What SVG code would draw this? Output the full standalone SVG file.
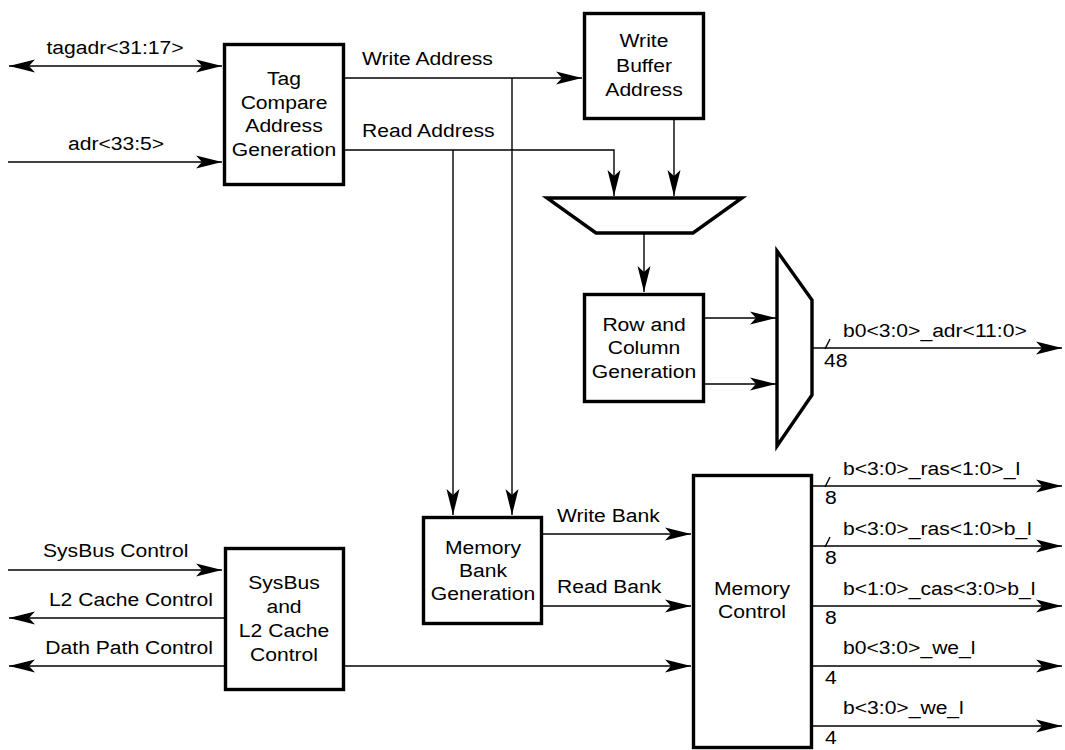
<svg xmlns="http://www.w3.org/2000/svg" width="1065" height="750" viewBox="0 0 1065 750">
<style>
.box{fill:#fff;stroke:#000;stroke-width:3.4}
.w{fill:none;stroke:#000;stroke-width:1.4}
.t{font-family:"Liberation Sans",Arial,Helvetica,sans-serif;font-size:18.6px;fill:#000}
.m{text-anchor:middle}
.e{text-anchor:end}
</style>
<defs>
<marker id="ah" markerUnits="userSpaceOnUse" markerWidth="27" markerHeight="14" refX="26" refY="7" orient="auto-start-reverse">
<path d="M0,0.5 L26,7 L0,13.5 L6,7 Z" fill="#000"/>
</marker>
</defs>
<rect width="1065" height="750" fill="#fff"/>
<g id="connectors">
<path class="w" d="M9,66 H222" marker-start="url(#ah)" marker-end="url(#ah)"/>
<path class="w" d="M8,162 H222" marker-end="url(#ah)"/>
<path class="w" d="M344,78 H582" marker-end="url(#ah)"/>
<path class="w" d="M344,150 H614 V196" marker-end="url(#ah)"/>
<path class="w" d="M512,78 V515" marker-end="url(#ah)"/>
<path class="w" d="M453,150 V515" marker-end="url(#ah)"/>
<path class="w" d="M674,120 V196" marker-end="url(#ah)"/>
<path class="w" d="M644,233 V292" marker-end="url(#ah)"/>
<path class="w" d="M705,318 H776" marker-end="url(#ah)"/>
<path class="w" d="M705,384 H776" marker-end="url(#ah)"/>
<path class="w" d="M813,348 H1062" marker-end="url(#ah)"/>
<path class="w" d="M825,349 L830,339"/>
<path class="w" d="M543,534 H691" marker-end="url(#ah)"/>
<path class="w" d="M543,606 H691" marker-end="url(#ah)"/>
<path class="w" d="M8,570 H222" marker-end="url(#ah)"/>
<path class="w" d="M224,618 H9" marker-end="url(#ah)"/>
<path class="w" d="M224,666 H9" marker-end="url(#ah)"/>
<path class="w" d="M345,666 H691" marker-end="url(#ah)"/>
<path class="w" d="M813,486 H1062" marker-end="url(#ah)"/>
<path class="w" d="M825,487 L830,477"/>
<path class="w" d="M813,546 H1062" marker-end="url(#ah)"/>
<path class="w" d="M825,547 L830,537"/>
<path class="w" d="M813,606 H1062" marker-end="url(#ah)"/>
<path class="w" d="M813,666 H1062" marker-end="url(#ah)"/>
<path class="w" d="M813,726 H1062" marker-end="url(#ah)"/>
</g>
<g id="labels">
<text class="t m" transform="translate(115,54) scale(1.135,1)">tagadr&lt;31:17&gt;</text>
<text class="t m" transform="translate(116,150) scale(1.135,1)">adr&lt;33:5&gt;</text>
<text class="t" transform="translate(362,65) scale(1.135,1)">Write Address</text>
<text class="t" transform="translate(362,137) scale(1.135,1)">Read Address</text>
<text class="t" transform="translate(843,337) scale(1.135,1)">b0&lt;3:0&gt;_adr&lt;11:0&gt;</text>
<text class="t" transform="translate(824,367) scale(1.135,1)">48</text>
<text class="t" transform="translate(557,522) scale(1.135,1)">Write Bank</text>
<text class="t" transform="translate(557,593) scale(1.135,1)">Read Bank</text>
<text class="t" transform="translate(43,557) scale(1.135,1)">SysBus Control</text>
<text class="t e" transform="translate(213,606) scale(1.135,1)">L2 Cache Control</text>
<text class="t e" transform="translate(213,654) scale(1.135,1)">Dath Path Control</text>
<text class="t" transform="translate(843,475) scale(1.135,1)">b&lt;3:0&gt;_ras&lt;1:0&gt;_l</text>
<text class="t" transform="translate(843,535) scale(1.135,1)">b&lt;3:0&gt;_ras&lt;1:0&gt;b_l</text>
<text class="t" transform="translate(843,595) scale(1.135,1)">b&lt;1:0&gt;_cas&lt;3:0&gt;b_l</text>
<text class="t" transform="translate(843,654) scale(1.135,1)">b0&lt;3:0&gt;_we_l</text>
<text class="t" transform="translate(843,714) scale(1.135,1)">b&lt;3:0&gt;_we_l</text>
<text class="t" transform="translate(825,504) scale(1.135,1)">8</text>
<text class="t" transform="translate(825,564) scale(1.135,1)">8</text>
<text class="t" transform="translate(825,624) scale(1.135,1)">8</text>
<text class="t" transform="translate(825,684) scale(1.135,1)">4</text>
<text class="t" transform="translate(825,744) scale(1.135,1)">4</text>
</g>
<g id="tag-compare">
<rect class="box" x="224.5" y="44.5" width="119" height="140"/>
<text class="t m" transform="translate(284,85) scale(1.135,1)">Tag</text>
<text class="t m" transform="translate(284,109) scale(1.135,1)">Compare</text>
<text class="t m" transform="translate(284,132) scale(1.135,1)">Address</text>
<text class="t m" transform="translate(284,156) scale(1.135,1)">Generation</text>
</g>
<g id="write-buffer">
<rect class="box" x="584.5" y="13.5" width="119" height="105"/>
<text class="t m" transform="translate(644,47) scale(1.135,1)">Write</text>
<text class="t m" transform="translate(644,72) scale(1.135,1)">Buffer</text>
<text class="t m" transform="translate(644,96) scale(1.135,1)">Address</text>
</g>
<g id="mux-address">
<polygon class="box" points="547,198 742,198 693,233 596,233"/>
</g>
<g id="row-column">
<rect class="box" x="584.5" y="294.5" width="119" height="107"/>
<text class="t m" transform="translate(644,331) scale(1.135,1)">Row and</text>
<text class="t m" transform="translate(644,354) scale(1.135,1)">Column</text>
<text class="t m" transform="translate(644,378) scale(1.135,1)">Generation</text>
</g>
<g id="mux-row-col">
<polygon class="box" points="777,251 812,300 812,395 777,446"/>
</g>
<g id="memory-bank">
<rect class="box" x="423.5" y="517.5" width="118" height="106"/>
<text class="t m" transform="translate(483,554) scale(1.135,1)">Memory</text>
<text class="t m" transform="translate(483,577) scale(1.135,1)">Bank</text>
<text class="t m" transform="translate(483,600) scale(1.135,1)">Generation</text>
</g>
<g id="memory-control">
<rect class="box" x="693.5" y="475.5" width="118" height="272"/>
<text class="t m" transform="translate(752,595) scale(1.135,1)">Memory</text>
<text class="t m" transform="translate(752,618) scale(1.135,1)">Control</text>
</g>
<g id="sysbus">
<rect class="box" x="225.5" y="548.5" width="118" height="141"/>
<text class="t m" transform="translate(284,589) scale(1.135,1)">SysBus</text>
<text class="t m" transform="translate(284,613) scale(1.135,1)">and</text>
<text class="t m" transform="translate(284,637) scale(1.135,1)">L2 Cache</text>
<text class="t m" transform="translate(284,661) scale(1.135,1)">Control</text>
</g>
</svg>
